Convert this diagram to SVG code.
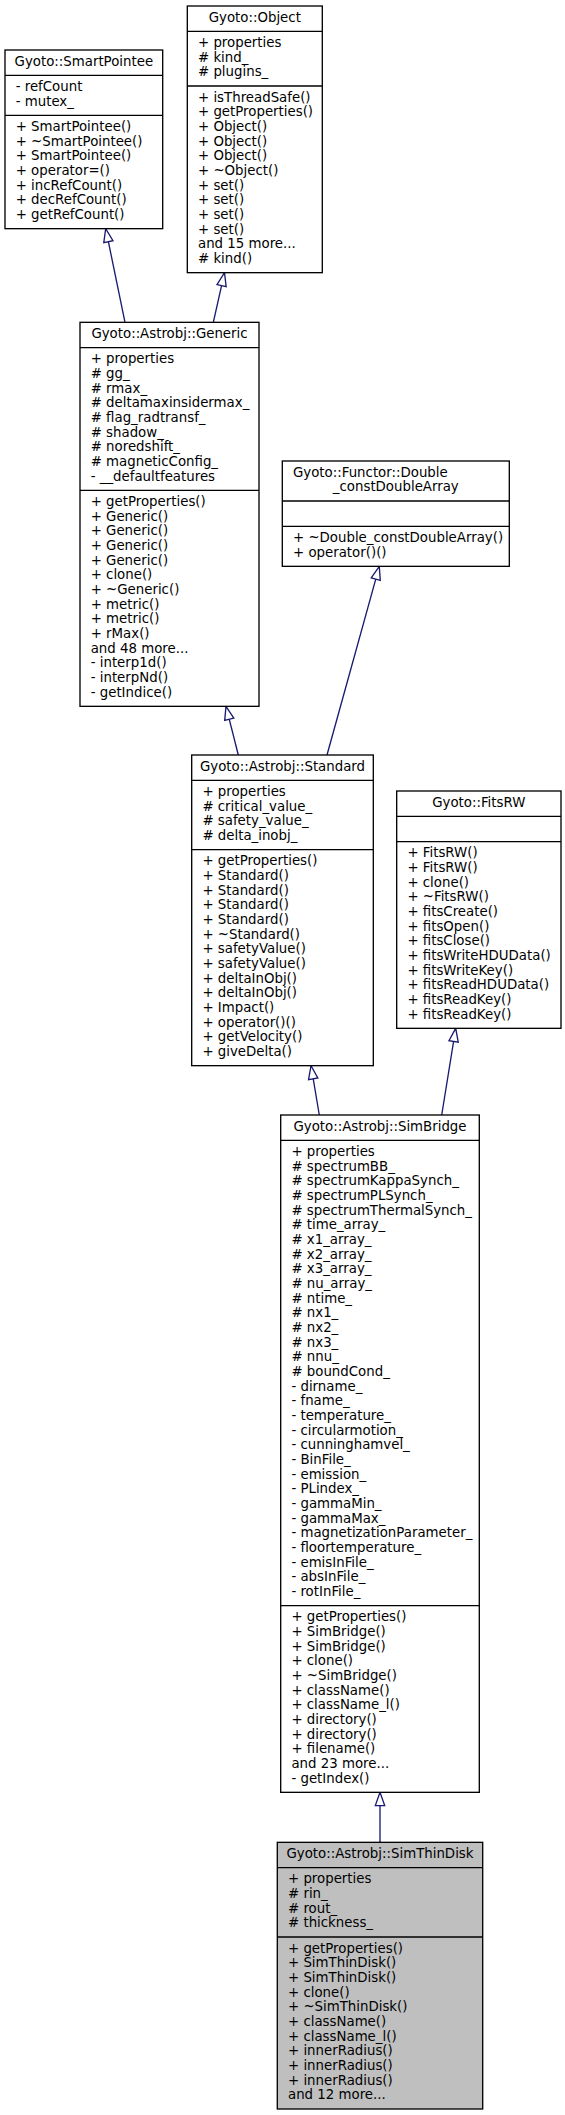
<svg xmlns="http://www.w3.org/2000/svg" width="565" height="2115" viewBox="0 0 565 2115">
<style>
.box{fill:#ffffff;stroke:#000000;stroke-width:1.33}
.cur{fill:#bfbfbf;stroke:#000000;stroke-width:1.33}
.sep{stroke:#000000;stroke-width:1.33}
text{font-family:"DejaVu Sans","Liberation Sans",sans-serif;font-size:13.33px;fill:#000000}
.t{text-anchor:middle}
.edge{fill:none;stroke:#191970;stroke-width:1.33}
</style>
<defs>
<marker id="inh" markerUnits="userSpaceOnUse" markerWidth="20" markerHeight="16" refX="14" refY="6" orient="auto" overflow="visible">
<path d="M0.7,1.3 L14,6 L0.7,10.7 Z" fill="#ffffff" stroke="#191970" stroke-width="1.33"/>
</marker>
</defs>
<rect width="565" height="2115" fill="#ffffff"/>
<g id="connectors">
<path class="edge" d="M125,322.33 L105.7,228.67" marker-end="url(#inh)"/>
<path class="edge" d="M213.3,322.33 L224.5,272.67" marker-end="url(#inh)"/>
<path class="edge" d="M238.3,755 L226,706.33" marker-end="url(#inh)"/>
<path class="edge" d="M327,755 L379.3,566.33" marker-end="url(#inh)"/>
<path class="edge" d="M319.3,1115 L311,1065.67" marker-end="url(#inh)"/>
<path class="edge" d="M441.7,1115 L455.7,1028.33" marker-end="url(#inh)"/>
<path class="edge" d="M380,1842.33 L380,1792.33" marker-end="url(#inh)"/>
</g>
<g id="SmartPointee">
<rect class="box" x="5" y="50" width="157.7" height="178.67"/>
<line class="sep" x1="5" y1="75.33" x2="162.7" y2="75.33"/>
<line class="sep" x1="5" y1="115.33" x2="162.7" y2="115.33"/>
<text class="t" x="83.85" y="65.6">Gyoto::SmartPointee</text>
<text x="15.7" y="90.9"><tspan x="15.7">- refCount</tspan><tspan x="15.7" dy="14.67">- mutex_</tspan></text>
<text x="15.7" y="130.9"><tspan x="15.7">+ SmartPointee()</tspan><tspan x="15.7" dy="14.67">+ ~SmartPointee()</tspan><tspan x="15.7" dy="14.67">+ SmartPointee()</tspan><tspan x="15.7" dy="14.67">+ operator=()</tspan><tspan x="15.7" dy="14.67">+ incRefCount()</tspan><tspan x="15.7" dy="14.67">+ decRefCount()</tspan><tspan x="15.7" dy="14.67">+ getRefCount()</tspan></text>
</g>
<g id="Object">
<rect class="box" x="187.3" y="6" width="135" height="266.67"/>
<line class="sep" x1="187.3" y1="31.33" x2="322.3" y2="31.33"/>
<line class="sep" x1="187.3" y1="86" x2="322.3" y2="86"/>
<text class="t" x="254.8" y="21.6">Gyoto::Object</text>
<text x="198" y="46.9"><tspan x="198">+ properties</tspan><tspan x="198" dy="14.67"># kind_</tspan><tspan x="198" dy="14.67"># plugins_</tspan></text>
<text x="198" y="101.6"><tspan x="198">+ isThreadSafe()</tspan><tspan x="198" dy="14.67">+ getProperties()</tspan><tspan x="198" dy="14.67">+ Object()</tspan><tspan x="198" dy="14.67">+ Object()</tspan><tspan x="198" dy="14.67">+ Object()</tspan><tspan x="198" dy="14.67">+ ~Object()</tspan><tspan x="198" dy="14.67">+ set()</tspan><tspan x="198" dy="14.67">+ set()</tspan><tspan x="198" dy="14.67">+ set()</tspan><tspan x="198" dy="14.67">+ set()</tspan><tspan x="198" dy="14.67">and 15 more...</tspan><tspan x="198" dy="14.67"># kind()</tspan></text>
</g>
<g id="Generic">
<rect class="box" x="80" y="322.33" width="179" height="384"/>
<line class="sep" x1="80" y1="347.67" x2="259" y2="347.67"/>
<line class="sep" x1="80" y1="490.33" x2="259" y2="490.33"/>
<text class="t" x="169.5" y="337.9">Gyoto::Astrobj::Generic</text>
<text x="90.7" y="363.3"><tspan x="90.7">+ properties</tspan><tspan x="90.7" dy="14.67"># gg_</tspan><tspan x="90.7" dy="14.67"># rmax_</tspan><tspan x="90.7" dy="14.67"># deltamaxinsidermax_</tspan><tspan x="90.7" dy="14.67"># flag_radtransf_</tspan><tspan x="90.7" dy="14.67"># shadow_</tspan><tspan x="90.7" dy="14.67"># noredshift_</tspan><tspan x="90.7" dy="14.67"># magneticConfig_</tspan><tspan x="90.7" dy="14.67">- __defaultfeatures</tspan></text>
<text x="90.7" y="505.9"><tspan x="90.7">+ getProperties()</tspan><tspan x="90.7" dy="14.67">+ Generic()</tspan><tspan x="90.7" dy="14.67">+ Generic()</tspan><tspan x="90.7" dy="14.67">+ Generic()</tspan><tspan x="90.7" dy="14.67">+ Generic()</tspan><tspan x="90.7" dy="14.67">+ clone()</tspan><tspan x="90.7" dy="14.67">+ ~Generic()</tspan><tspan x="90.7" dy="14.67">+ metric()</tspan><tspan x="90.7" dy="14.67">+ metric()</tspan><tspan x="90.7" dy="14.67">+ rMax()</tspan><tspan x="90.7" dy="14.67">and 48 more...</tspan><tspan x="90.7" dy="14.67">- interp1d()</tspan><tspan x="90.7" dy="14.67">- interpNd()</tspan><tspan x="90.7" dy="14.67">- getIndice()</tspan></text>
</g>
<g id="Functor">
<rect class="box" x="282.3" y="461" width="227" height="105.33"/>
<line class="sep" x1="282.3" y1="501" x2="509.3" y2="501"/>
<line class="sep" x1="282.3" y1="526.33" x2="509.3" y2="526.33"/>
<text x="293" y="476.6">Gyoto::Functor::Double</text>
<text class="t" x="395.8" y="491.3">_constDoubleArray</text>
<text x="293" y="541.9"><tspan x="293">+ ~Double_constDoubleArray()</tspan><tspan x="293" dy="14.67">+ operator()()</tspan></text>
</g>
<g id="Standard">
<rect class="box" x="191.7" y="755" width="181.6" height="310.67"/>
<line class="sep" x1="191.7" y1="780.33" x2="373.3" y2="780.33"/>
<line class="sep" x1="191.7" y1="849.67" x2="373.3" y2="849.67"/>
<text class="t" x="282.5" y="770.6">Gyoto::Astrobj::Standard</text>
<text x="202.4" y="795.9"><tspan x="202.4">+ properties</tspan><tspan x="202.4" dy="14.67"># critical_value_</tspan><tspan x="202.4" dy="14.67"># safety_value_</tspan><tspan x="202.4" dy="14.67"># delta_inobj_</tspan></text>
<text x="202.4" y="865.3"><tspan x="202.4">+ getProperties()</tspan><tspan x="202.4" dy="14.67">+ Standard()</tspan><tspan x="202.4" dy="14.67">+ Standard()</tspan><tspan x="202.4" dy="14.67">+ Standard()</tspan><tspan x="202.4" dy="14.67">+ Standard()</tspan><tspan x="202.4" dy="14.67">+ ~Standard()</tspan><tspan x="202.4" dy="14.67">+ safetyValue()</tspan><tspan x="202.4" dy="14.67">+ safetyValue()</tspan><tspan x="202.4" dy="14.67">+ deltaInObj()</tspan><tspan x="202.4" dy="14.67">+ deltaInObj()</tspan><tspan x="202.4" dy="14.67">+ Impact()</tspan><tspan x="202.4" dy="14.67">+ operator()()</tspan><tspan x="202.4" dy="14.67">+ getVelocity()</tspan><tspan x="202.4" dy="14.67">+ giveDelta()</tspan></text>
</g>
<g id="FitsRW">
<rect class="box" x="396.7" y="791" width="164.3" height="237.33"/>
<line class="sep" x1="396.7" y1="816.33" x2="561" y2="816.33"/>
<line class="sep" x1="396.7" y1="841.67" x2="561" y2="841.67"/>
<text class="t" x="478.8" y="806.6">Gyoto::FitsRW</text>
<text x="407.4" y="857.3"><tspan x="407.4">+ FitsRW()</tspan><tspan x="407.4" dy="14.67">+ FitsRW()</tspan><tspan x="407.4" dy="14.67">+ clone()</tspan><tspan x="407.4" dy="14.67">+ ~FitsRW()</tspan><tspan x="407.4" dy="14.67">+ fitsCreate()</tspan><tspan x="407.4" dy="14.67">+ fitsOpen()</tspan><tspan x="407.4" dy="14.67">+ fitsClose()</tspan><tspan x="407.4" dy="14.67">+ fitsWriteHDUData()</tspan><tspan x="407.4" dy="14.67">+ fitsWriteKey()</tspan><tspan x="407.4" dy="14.67">+ fitsReadHDUData()</tspan><tspan x="407.4" dy="14.67">+ fitsReadKey()</tspan><tspan x="407.4" dy="14.67">+ fitsReadKey()</tspan></text>
</g>
<g id="SimBridge">
<rect class="box" x="280.7" y="1115" width="198.6" height="677.33"/>
<line class="sep" x1="280.7" y1="1140.33" x2="479.3" y2="1140.33"/>
<line class="sep" x1="280.7" y1="1605.67" x2="479.3" y2="1605.67"/>
<text class="t" x="380" y="1130.6">Gyoto::Astrobj::SimBridge</text>
<text x="291.4" y="1155.9"><tspan x="291.4">+ properties</tspan><tspan x="291.4" dy="14.67"># spectrumBB_</tspan><tspan x="291.4" dy="14.67"># spectrumKappaSynch_</tspan><tspan x="291.4" dy="14.67"># spectrumPLSynch_</tspan><tspan x="291.4" dy="14.67"># spectrumThermalSynch_</tspan><tspan x="291.4" dy="14.67"># time_array_</tspan><tspan x="291.4" dy="14.67"># x1_array_</tspan><tspan x="291.4" dy="14.67"># x2_array_</tspan><tspan x="291.4" dy="14.67"># x3_array_</tspan><tspan x="291.4" dy="14.67"># nu_array_</tspan><tspan x="291.4" dy="14.67"># ntime_</tspan><tspan x="291.4" dy="14.67"># nx1_</tspan><tspan x="291.4" dy="14.67"># nx2_</tspan><tspan x="291.4" dy="14.67"># nx3_</tspan><tspan x="291.4" dy="14.67"># nnu_</tspan><tspan x="291.4" dy="14.67"># boundCond_</tspan><tspan x="291.4" dy="14.67">- dirname_</tspan><tspan x="291.4" dy="14.67">- fname_</tspan><tspan x="291.4" dy="14.67">- temperature_</tspan><tspan x="291.4" dy="14.67">- circularmotion_</tspan><tspan x="291.4" dy="14.67">- cunninghamvel_</tspan><tspan x="291.4" dy="14.67">- BinFile_</tspan><tspan x="291.4" dy="14.67">- emission_</tspan><tspan x="291.4" dy="14.67">- PLindex_</tspan><tspan x="291.4" dy="14.67">- gammaMin_</tspan><tspan x="291.4" dy="14.67">- gammaMax_</tspan><tspan x="291.4" dy="14.67">- magnetizationParameter_</tspan><tspan x="291.4" dy="14.67">- floortemperature_</tspan><tspan x="291.4" dy="14.67">- emisInFile_</tspan><tspan x="291.4" dy="14.67">- absInFile_</tspan><tspan x="291.4" dy="14.67">- rotInFile_</tspan></text>
<text x="291.4" y="1621.3"><tspan x="291.4">+ getProperties()</tspan><tspan x="291.4" dy="14.67">+ SimBridge()</tspan><tspan x="291.4" dy="14.67">+ SimBridge()</tspan><tspan x="291.4" dy="14.67">+ clone()</tspan><tspan x="291.4" dy="14.67">+ ~SimBridge()</tspan><tspan x="291.4" dy="14.67">+ className()</tspan><tspan x="291.4" dy="14.67">+ className_l()</tspan><tspan x="291.4" dy="14.67">+ directory()</tspan><tspan x="291.4" dy="14.67">+ directory()</tspan><tspan x="291.4" dy="14.67">+ filename()</tspan><tspan x="291.4" dy="14.67">and 23 more...</tspan><tspan x="291.4" dy="14.67">- getIndex()</tspan></text>
</g>
<g id="SimThinDisk">
<rect class="cur" x="277.3" y="1842.33" width="205.4" height="266.67"/>
<line class="sep" x1="277.3" y1="1867.67" x2="482.7" y2="1867.67"/>
<line class="sep" x1="277.3" y1="1937" x2="482.7" y2="1937"/>
<text class="t" x="380" y="1857.9">Gyoto::Astrobj::SimThinDisk</text>
<text x="288" y="1883.3"><tspan x="288">+ properties</tspan><tspan x="288" dy="14.67"># rin_</tspan><tspan x="288" dy="14.67"># rout_</tspan><tspan x="288" dy="14.67"># thickness_</tspan></text>
<text x="288" y="1952.6"><tspan x="288">+ getProperties()</tspan><tspan x="288" dy="14.67">+ SimThinDisk()</tspan><tspan x="288" dy="14.67">+ SimThinDisk()</tspan><tspan x="288" dy="14.67">+ clone()</tspan><tspan x="288" dy="14.67">+ ~SimThinDisk()</tspan><tspan x="288" dy="14.67">+ className()</tspan><tspan x="288" dy="14.67">+ className_l()</tspan><tspan x="288" dy="14.67">+ innerRadius()</tspan><tspan x="288" dy="14.67">+ innerRadius()</tspan><tspan x="288" dy="14.67">+ innerRadius()</tspan><tspan x="288" dy="14.67">and 12 more...</tspan></text>
</g>
</svg>
